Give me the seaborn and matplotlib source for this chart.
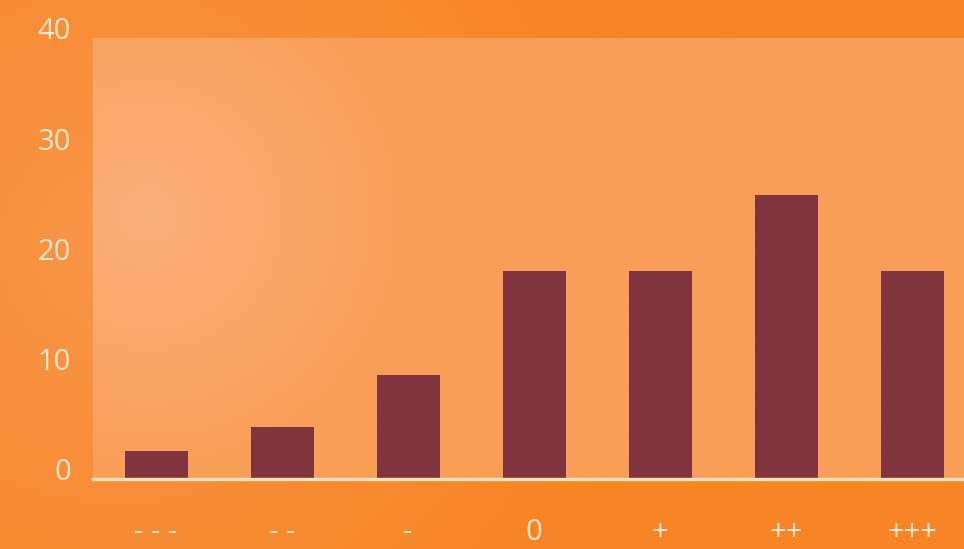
"""
Bar chart of rating distribution on an orange gradient panel.
"""

import numpy as np
import pandas as pd
import matplotlib.pyplot as plt
import seaborn as sns
from matplotlib.transforms import ScaledTranslation

# data
categories = ['- - -', '- -', '-', '0', '+', '++', '+++']
values = [2.5, 4.7, 9.4, 18.9, 18.9, 25.8, 18.9]
y_ticks = [0, 10, 20, 30, 40]

BAR_COLOR = '#80343D'
TEXT_COLOR = '#FCE6CC'
BASE_COLOR = '#FDE3BC'


def radial_background(h, w, cx, cy, inner, outer, radius):
    """RGB array with a soft light spot at (cx, cy) in 0..1 coords."""
    yy, xx = np.mgrid[0:1:h * 1j, 0:1:w * 1j]
    d = np.sqrt(((xx - cx) * w / h) ** 2 + (yy - cy) ** 2) / radius
    t = np.clip(d, 0, 1)[..., None]
    inner = np.array(inner) / 255.0
    outer = np.array(outer) / 255.0
    return inner * (1 - t) + outer * t


def main():
    df = pd.DataFrame({'category': categories, 'value': values})

    sns.set_theme(style='white')
    plt.rcParams['font.family'] = ['Open Sans', 'DejaVu Sans']

    fig = plt.figure(figsize=(9.64, 5.49), dpi=100)

    # outer orange backdrop
    bg = fig.add_axes([0, 0, 1, 1], zorder=-10)
    bg.imshow(radial_background(120, 210, 0.12, 0.45, (249, 150, 72), (247, 133, 38), 0.9),
              aspect='auto', extent=[0, 1, 0, 1], interpolation='bicubic')
    bg.set_axis_off()

    left, right, top, base = 93, 975, 38, 479
    ax = fig.add_axes([left / 964, 1 - base / 549, (right - left) / 964, (base - top) / 549])
    ax.set_facecolor('none')

    # lighter plot panel with a glow on the upper left
    ax.imshow(radial_background(100, 200, 0.06, 0.40, (252, 176, 122), (249, 158, 88), 0.6),
              aspect='auto', extent=[-0.5, 6.5, 0, 40], zorder=0, interpolation='bicubic')

    sns.barplot(data=df, x='category', y='value', color=BAR_COLOR, width=0.5,
                saturation=1, linewidth=0, edgecolor='none', ax=ax, zorder=2)

    ax.set_xlim(-0.5, 6.5)
    ax.set_ylim(0, 40)
    ax.set_yticks(y_ticks)
    ax.set_xlabel('')
    ax.set_ylabel('')

    for side in ['top', 'right', 'left']:
        ax.spines[side].set_visible(False)
    ax.spines['bottom'].set_color(BASE_COLOR)
    ax.spines['bottom'].set_linewidth(2.4)
    ax.spines['bottom'].set_zorder(3)

    ax.tick_params(axis='y', length=0, pad=16, labelsize=21, labelcolor=TEXT_COLOR)
    ax.tick_params(axis='x', length=0, pad=28, labelsize=21, labelcolor=TEXT_COLOR)

    # y labels sit a little above their gridline value
    shift = ScaledTranslation(0, 7 / 72, fig.dpi_scale_trans)
    for lbl in ax.get_yticklabels():
        lbl.set_transform(lbl.get_transform() + shift)

    fig.savefig('out.png', dpi=100)
    plt.close(fig)


if __name__ == '__main__':
    main()
